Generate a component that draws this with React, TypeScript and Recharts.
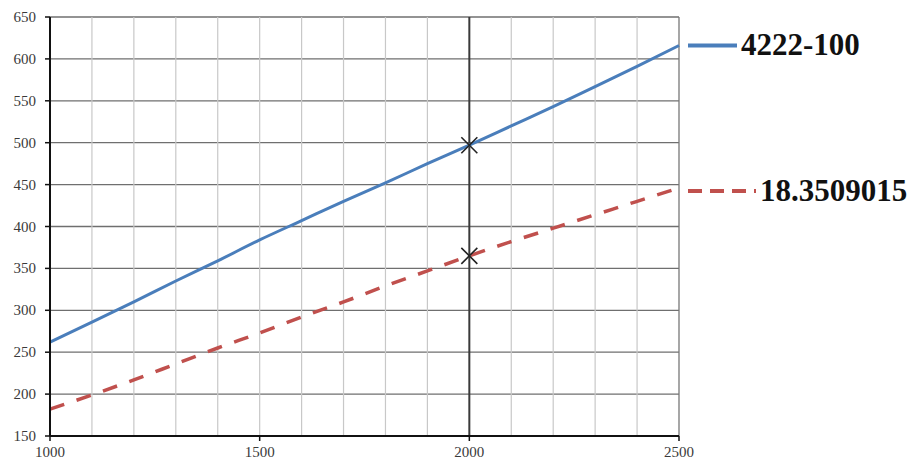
import React from 'react';
import {
  ComposedChart,
  Line,
  XAxis,
  YAxis,
  CartesianGrid,
  ReferenceLine,
} from 'recharts';

const xValues = [1000, 1100, 1200, 1300, 1400, 1500, 1600, 1700, 1800, 1900, 2000, 2100, 2200, 2300, 2400, 2500];
const series4222 = [262, 286, 310, 335, 359, 384, 407, 430, 452, 475, 497, 520, 543, 567, 591, 616];
const series18 = [182, 199, 217, 236, 255, 273, 292, 310, 329, 347, 365, 382, 398, 414, 430, 446];

const xTicks = [1000, 1500, 2000, 2500];
const yTicks = [150, 200, 250, 300, 350, 400, 450, 500, 550, 600, 650];
const minorX = [1100, 1200, 1300, 1400, 1500, 1600, 1700, 1800, 1900, 2100, 2200, 2300, 2400];
const markerX = [2000];

const data = xValues.map((x, i) => ({ x, a: series4222[i], b: series18[i] }));

const serif = '"Liberation Serif", "Times New Roman", serif';

const CrossDot = (props: any) => {
  const { cx, cy, payload } = props;
  if (!markerX.includes(payload.x)) return <g />;
  const s = 8;
  return (
    <path
      d={`M${cx - s},${cy - s}L${cx + s},${cy + s}M${cx - s},${cy + s}L${cx + s},${cy - s}`}
      stroke="#222"
      strokeWidth={1.6}
      fill="none"
    />
  );
};

const seriesLabel = (name: string, color: string, dash: string | undefined, lineLen: number, dy: number) =>
  (props: any) => {
    const { x, y, index } = props;
    if (index !== xValues.length - 1) return <g />;
    const yy = y + dy;
    return (
      <g>
        <line x1={x + 9} y1={yy} x2={x + 9 + lineLen} y2={yy} stroke={color} strokeWidth={4} strokeDasharray={dash} />
        <text
          x={x + 13 + lineLen}
          y={yy + 10}
          fontFamily={serif}
          fontWeight="bold"
          fontSize={31}
          fill="#111"
        >
          {name}
        </text>
      </g>
    );
  };

// tick labels in Times, drawn by hand so the font sticks
const XTick = (props: any) => {
  const { x, y, payload } = props;
  return (
    <text x={x} y={y + 12} textAnchor="middle" fontFamily={serif} fontSize={15} fill="#3a3a3a">
      {payload.value}
    </text>
  );
};

const YTick = (props: any) => {
  const { x, y, payload } = props;
  return (
    <text x={x} y={y + 5} textAnchor="end" fontFamily={serif} fontSize={15} fill="#3a3a3a">
      {payload.value}
    </text>
  );
};

export default function App() {
  return (
    <div style={{ position: 'absolute', left: 0, top: 0, width: 914, height: 468, background: '#fff' }}>
      <ComposedChart width={914} height={468} data={data} margin={{ top: 17, right: 235, bottom: 0, left: 0 }}>
        <CartesianGrid vertical={false} stroke="#6f6f6f" strokeWidth={1.3} />
        {minorX.map((v) => (
          <ReferenceLine key={v} x={v} stroke="#c8c8c8" strokeWidth={1.2} />
        ))}
        <ReferenceLine x={2500} stroke="#777" strokeWidth={1.3} />
        <ReferenceLine x={2000} stroke="#3a3a3a" strokeWidth={2} />
        <XAxis
          dataKey="x"
          type="number"
          domain={[1000, 2500]}
          ticks={xTicks}
          height={32}
          axisLine={{ stroke: '#111', strokeWidth: 2 }}
          tickLine={{ stroke: '#111', strokeWidth: 1.5 }}
          tickSize={5}
          tickMargin={4}
          tick={<XTick />}
        />
        <YAxis
          type="number"
          domain={[150, 650]}
          ticks={yTicks}
          width={50}
          axisLine={{ stroke: '#111', strokeWidth: 2 }}
          tickLine={{ stroke: '#111', strokeWidth: 1.5 }}
          tickSize={5}
          tickMargin={9}
          tick={<YTick />}
        />
        <Line
          dataKey="a"
          type="monotone"
          stroke="#4a7ebb"
          strokeWidth={3}
          dot={<CrossDot />}
          activeDot={false}
          isAnimationActive={false}
          label={seriesLabel('4222-100', '#4a7ebb', undefined, 49, 0)}
        />
        <Line
          dataKey="b"
          type="monotone"
          stroke="#c0504d"
          strokeWidth={3.5}
          strokeDasharray="15 13"
          dot={<CrossDot />}
          activeDot={false}
          isAnimationActive={false}
          label={seriesLabel('18.3509015', '#c0504d', '14 8', 68, 3)}
        />
      </ComposedChart>
    </div>
  );
}
